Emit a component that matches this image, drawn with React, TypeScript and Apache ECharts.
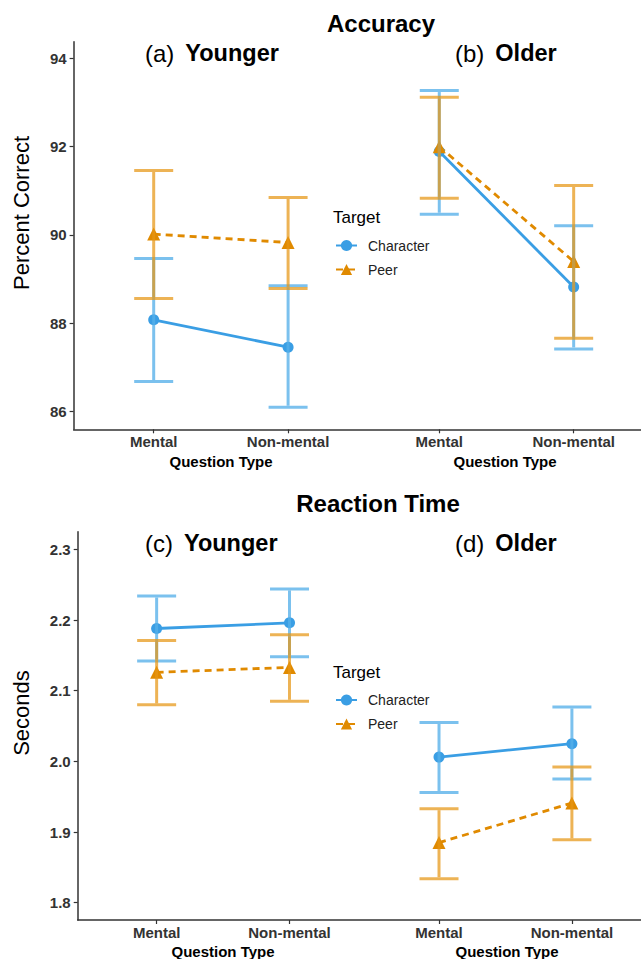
import React, { useEffect, useRef } from "react";
import * as echarts from "echarts";

// ---- data ----
const questionTypes = ["Mental", "Non-mental"];
const groupLabels = ["Younger", "Older"];
const seriesNames = ["Character", "Peer"];

// Accuracy (percent correct): means and error bar limits [Mental, Non-mental]
const accYoungerCharacter = [88.08, 87.46];
const accYoungerCharacterLo = [86.68, 86.1];
const accYoungerCharacterHi = [89.47, 88.85];
const accYoungerPeer = [90.02, 89.83];
const accYoungerPeerLo = [88.56, 88.79];
const accYoungerPeerHi = [91.46, 90.85];
const accOlderCharacter = [91.89, 88.82];
const accOlderCharacterLo = [90.47, 87.42];
const accOlderCharacterHi = [93.27, 90.21];
const accOlderPeer = [92.0, 89.4];
const accOlderPeerLo = [90.83, 87.66];
const accOlderPeerHi = [93.12, 91.12];
const accTicks = [86, 88, 90, 92, 94];

// Reaction time (seconds)
const rtYoungerCharacter = [2.188, 2.196];
const rtYoungerCharacterLo = [2.142, 2.148];
const rtYoungerCharacterHi = [2.234, 2.244];
const rtYoungerPeer = [2.126, 2.133];
const rtYoungerPeerLo = [2.08, 2.085];
const rtYoungerPeerHi = [2.171, 2.179];
const rtOlderCharacter = [2.006, 2.025];
const rtOlderCharacterLo = [1.956, 1.975];
const rtOlderCharacterHi = [2.055, 2.077];
const rtOlderPeer = [1.885, 1.941];
const rtOlderPeerLo = [1.834, 1.889];
const rtOlderPeerHi = [1.933, 1.992];
const rtTicks = [1.8, 1.9, 2.0, 2.1, 2.2, 2.3];

// ---- layout / style ----
const POS_Y = [1, 2];
const POS_O = [3.125, 4.125];
const ALL_POS = [...POS_Y, ...POS_O];
const BLUE = "#3A9EE4";
const ORANGE = "#E08A00";
const BLUE_EB = "rgba(86,176,233,0.78)";
const ORANGE_EB = "rgba(230,150,20,0.72)";
const FONT = "'Liberation Sans', Arial, Helvetica, sans-serif";
const AXIS_COL = "#333333";

function lineSeries(name: string, pos: number[], vals: number[], idx: number, peer: boolean) {
  return {
    type: "line",
    name,
    xAxisIndex: idx,
    yAxisIndex: idx,
    data: pos.map((p, i) => [p, vals[i]]),
    symbol: peer ? "triangle" : "circle",
    symbolSize: peer ? 13 : 11,
    itemStyle: { color: peer ? ORANGE : BLUE },
    lineStyle: { color: peer ? ORANGE : BLUE, width: 2.8, type: peer ? [7, 5] : "solid" },
    z: 2,
    silent: true,
  };
}

function errSeries(name: string, pos: number[], lo: number[], hi: number[], idx: number, color: string) {
  return {
    type: "custom",
    name,
    xAxisIndex: idx,
    yAxisIndex: idx,
    data: pos.map((p, i) => [p, lo[i], hi[i]]),
    encode: { x: 0, y: [1, 2] },
    z: 3,
    silent: true,
    renderItem: (params: any, api: any) => {
      const x = api.value(0);
      const top = api.coord([x, api.value(2)]);
      const bot = api.coord([x, api.value(1)]);
      const hw = 19.5;
      const st = { stroke: color, lineWidth: 3, fill: "none" };
      return {
        type: "group",
        children: [
          { type: "line", shape: { x1: top[0], y1: top[1] + 1.5, x2: bot[0], y2: bot[1] - 1.5 }, style: st },
          { type: "line", shape: { x1: top[0] - hw, y1: top[1], x2: top[0] + hw, y2: top[1] }, style: st },
          { type: "line", shape: { x1: bot[0] - hw, y1: bot[1], x2: bot[0] + hw, y2: bot[1] }, style: st },
        ],
      };
    },
  };
}

function xAxis(idx: number, min: number, max: number) {
  return {
    type: "value",
    gridIndex: idx,
    min,
    max,
    axisLine: { show: true, lineStyle: { color: AXIS_COL, width: 1.5 } },
    axisTick: { show: true, customValues: ALL_POS, length: 4, lineStyle: { color: AXIS_COL, width: 1.2 } },
    axisLabel: {
      show: true,
      customValues: ALL_POS,
      margin: 5,
      fontFamily: FONT,
      fontSize: 15,
      fontWeight: "bold",
      color: AXIS_COL,
      formatter: (v: number) => {
        let best = 0;
        ALL_POS.forEach((p, i) => {
          if (Math.abs(p - v) < Math.abs(ALL_POS[best] - v)) best = i;
        });
        return questionTypes[best % 2];
      },
    },
    splitLine: { show: false },
  };
}

function yAxis(idx: number, min: number, max: number, ticks: number[], dec: number) {
  return {
    type: "value",
    gridIndex: idx,
    min,
    max,
    axisLine: { show: true, lineStyle: { color: AXIS_COL, width: 1.5 } },
    axisTick: { show: true, customValues: ticks, length: 4, lineStyle: { color: AXIS_COL, width: 1.2 } },
    axisLabel: {
      show: true,
      customValues: ticks,
      margin: 7,
      fontFamily: FONT,
      fontSize: 15,
      fontWeight: "bold",
      color: AXIS_COL,
      formatter: (v: number) => v.toFixed(dec),
    },
    splitLine: { show: false },
  };
}

function txt(text: string, x: number, y: number, font: string, extra: any = {}) {
  return {
    type: "text",
    x,
    y,
    ...extra,
    style: { text, font, fill: "#000", textAlign: "center", textVerticalAlign: "middle", ...(extra.style || {}) },
  };
}

function panelLabel(letter: string, group: string, x: number, y: number) {
  return {
    type: "text",
    x,
    y,
    style: {
      text: `{r|(${letter})}{b|${group}}`,
      textAlign: "left",
      textVerticalAlign: "middle",
      rich: {
        r: { fontFamily: FONT, fontSize: 24, fontWeight: "normal", fill: "#000", padding: [0, 11, 0, 0] },
        b: { fontFamily: FONT, fontSize: 23.5, fontWeight: "bold", fill: "#000" },
      },
    },
  };
}

function legend(top: number) {
  return {
    data: seriesNames,
    orient: "vertical",
    left: 335,
    top,
    padding: 0,
    itemWidth: 21,
    itemHeight: 14,
    itemGap: 10,
    selectedMode: false,
    textStyle: { fontFamily: FONT, fontSize: 14, color: "#222", padding: [0, 0, 0, 6] },
  };
}

export default function App() {
  const ref = useRef<HTMLDivElement>(null);
  useEffect(() => {
    if (!ref.current) return;
    const chart = echarts.init(ref.current, null, { renderer: "svg" });
    const option = {
      animation: false,
      backgroundColor: "#ffffff",
      grid: [
        { left: 73.6, right: 0, top: 41.7, height: 387.6 },
        { left: 77.7, right: 0, top: 531.7, height: 388.3 },
      ],
      xAxis: [xAxis(0, 0.404, 4.626), xAxis(1, 0.406, 4.645)],
      yAxis: [yAxis(0, 85.6, 94.376, accTicks, 0), yAxis(1, 1.7755, 2.325, rtTicks, 1)],
      legend: [legend(238.5), legend(693)],
      series: [
        lineSeries(seriesNames[0], POS_Y, accYoungerCharacter, 0, false),
        lineSeries(seriesNames[1], POS_Y, accYoungerPeer, 0, true),
        lineSeries(seriesNames[0], POS_O, accOlderCharacter, 0, false),
        lineSeries(seriesNames[1], POS_O, accOlderPeer, 0, true),
        errSeries("eb1", POS_Y, accYoungerCharacterLo, accYoungerCharacterHi, 0, BLUE_EB),
        errSeries("eb2", POS_Y, accYoungerPeerLo, accYoungerPeerHi, 0, ORANGE_EB),
        errSeries("eb3", POS_O, accOlderCharacterLo, accOlderCharacterHi, 0, BLUE_EB),
        errSeries("eb4", POS_O, accOlderPeerLo, accOlderPeerHi, 0, ORANGE_EB),
        lineSeries(seriesNames[0], POS_Y, rtYoungerCharacter, 1, false),
        lineSeries(seriesNames[1], POS_Y, rtYoungerPeer, 1, true),
        lineSeries(seriesNames[0], POS_O, rtOlderCharacter, 1, false),
        lineSeries(seriesNames[1], POS_O, rtOlderPeer, 1, true),
        errSeries("eb5", POS_Y, rtYoungerCharacterLo, rtYoungerCharacterHi, 1, BLUE_EB),
        errSeries("eb6", POS_Y, rtYoungerPeerLo, rtYoungerPeerHi, 1, ORANGE_EB),
        errSeries("eb7", POS_O, rtOlderCharacterLo, rtOlderCharacterHi, 1, BLUE_EB),
        errSeries("eb8", POS_O, rtOlderPeerLo, rtOlderPeerHi, 1, ORANGE_EB),
      ],
      graphic: [
        txt("Accuracy", 381, 23, `bold 24px ${FONT}`),
        txt("Reaction Time", 378, 503, `bold 24px ${FONT}`),
        panelLabel("a", groupLabels[0], 145, 53),
        panelLabel("b", groupLabels[1], 455, 53),
        panelLabel("c", groupLabels[0], 145, 543),
        panelLabel("d", groupLabels[1], 455, 543),
        txt("Percent Correct", 21, 213, `22px ${FONT}`, { rotation: Math.PI / 2 }),
        txt("Seconds", 21, 713, `22px ${FONT}`, { rotation: Math.PI / 2 }),
        txt("Question Type", 221, 461, `bold 15px ${FONT}`),
        txt("Question Type", 505, 461, `bold 15px ${FONT}`),
        txt("Question Type", 223, 951, `bold 15px ${FONT}`),
        txt("Question Type", 507, 951, `bold 15px ${FONT}`),
        txt("Target", 333, 217, `17px ${FONT}`, { style: { textAlign: "left" } }),
        txt("Target", 333, 672, `17px ${FONT}`, { style: { textAlign: "left" } }),
      ],
    };
    chart.setOption(option as any);
    return () => chart.dispose();
  }, []);
  return <div ref={ref} style={{ position: "fixed", left: 0, top: 0, width: 641, height: 959 }} />;
}
